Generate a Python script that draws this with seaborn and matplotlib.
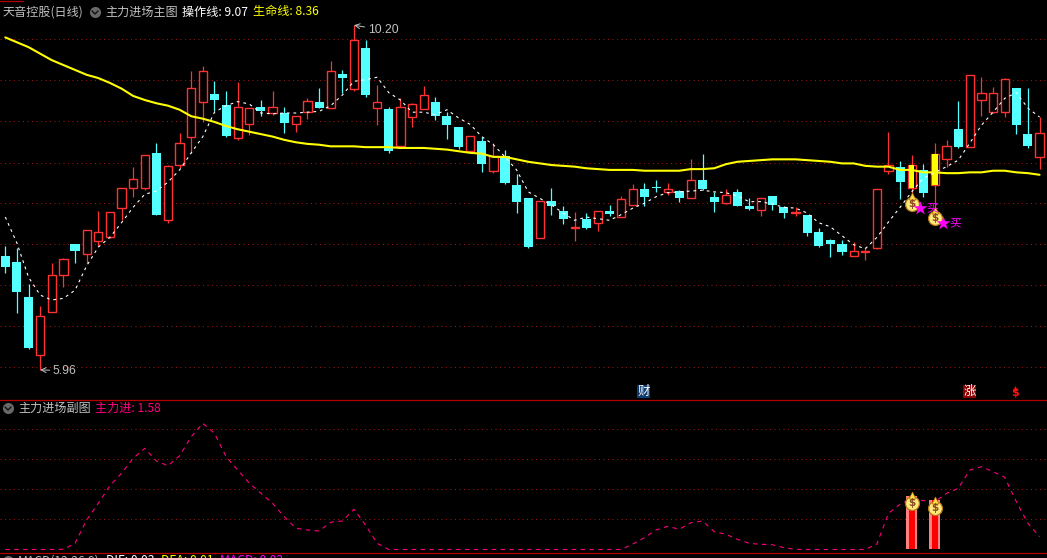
import numpy as np
import pandas as pd
import seaborn as sns
from matplotlib import pyplot as plt
from matplotlib.lines import Line2D
from matplotlib.patches import Rectangle
from matplotlib.transforms import ScaledTranslation

# daily candles
opens = [7.36,7.29,6.86,6.14,6.67,7.13,7.51,7.39,7.55,7.59,7.95,8.20,8.20,8.63,7.80,8.48,8.82,9.26,9.35,9.22,
         8.81,8.98,9.19,9.12,9.12,8.98,9.13,9.26,9.18,9.60,9.42,9.92,9.18,9.17,8.71,9.07,9.17,9.26,9.08,8.95,
         8.65,8.78,8.41,8.59,8.23,8.07,7.58,8.04,7.91,7.71,7.82,7.77,7.91,7.84,7.99,8.19,8.21,8.15,8.16,8.07,
         8.30,8.09,8.01,8.15,7.98,7.93,8.10,7.96,7.89,7.87,7.66,7.56,7.51,7.36,7.41,7.46,8.41,8.46,8.20,8.42,
         8.23,8.55,8.92,8.70,9.28,9.13,9.13,9.43,8.86,8.58]
closes = [7.23,6.92,6.23,6.62,7.13,7.32,7.42,7.68,7.66,7.90,8.20,8.31,8.60,7.87,8.47,8.75,9.43,9.64,9.28,8.84,
          9.19,9.18,9.14,9.19,9.00,9.08,9.27,9.18,9.64,9.55,10.02,9.34,9.26,8.65,9.19,9.23,9.34,9.08,8.97,8.70,
          8.84,8.49,8.59,8.26,8.02,7.47,8.04,7.98,7.82,7.72,7.71,7.91,7.88,8.06,8.19,8.09,8.20,8.19,8.07,8.30,
          8.19,8.03,8.11,7.98,7.94,8.07,7.99,7.89,7.90,7.64,7.48,7.51,7.41,7.42,7.42,8.19,8.48,8.27,8.48,8.14,
          8.62,8.71,8.70,9.59,9.37,9.37,9.54,8.97,8.71,8.87]
highs = [7.48,7.46,7.02,6.75,7.28,7.34,7.51,7.68,7.92,7.90,8.20,8.46,8.60,8.75,8.48,8.87,9.64,9.70,9.51,9.39,
         9.50,9.18,9.28,9.39,9.19,9.08,9.30,9.43,9.76,9.65,10.20,10.02,9.46,9.19,9.30,9.24,9.45,9.32,9.13,8.95,
         8.84,8.83,8.75,8.67,8.37,8.07,8.04,8.20,7.98,7.90,7.89,7.91,7.99,8.10,8.25,8.26,8.30,8.26,8.17,8.55,
         8.62,8.15,8.19,8.19,8.07,8.07,8.10,7.98,7.96,7.87,7.71,7.57,7.56,7.53,7.47,8.19,8.89,8.53,8.60,8.49,
         8.75,8.79,9.27,9.59,9.56,9.44,9.55,9.43,9.43,9.07]
lows = [7.15,6.66,6.22,5.96,6.67,6.98,7.28,7.28,7.48,7.58,7.80,8.09,8.17,7.87,7.77,8.44,8.63,9.01,9.14,8.83,
        8.79,8.85,9.08,9.10,8.87,8.89,9.05,9.18,9.18,9.37,9.39,9.32,8.97,8.63,8.71,8.95,9.17,9.03,8.80,8.68,
        8.65,8.39,8.38,8.25,7.89,7.46,7.58,7.87,7.75,7.55,7.69,7.67,7.85,7.84,7.99,7.98,8.15,8.11,8.03,8.07,
        8.17,7.90,8.00,7.98,7.93,7.85,7.93,7.83,7.85,7.61,7.47,7.35,7.37,7.36,7.31,7.45,8.37,8.06,8.05,8.09,
        7.87,8.46,8.69,8.70,9.08,9.12,9.07,8.86,8.69,8.43]

life_line = [10.05,9.99,9.93,9.85,9.77,9.71,9.65,9.59,9.55,9.49,9.42,9.33,9.28,9.24,9.21,9.16,9.08,9.05,9.01,8.96,
             8.92,8.89,8.86,8.83,8.79,8.76,8.74,8.73,8.71,8.71,8.71,8.70,8.70,8.70,8.69,8.69,8.69,8.68,8.67,8.65,
             8.63,8.62,8.58,8.58,8.55,8.52,8.50,8.48,8.47,8.46,8.44,8.43,8.42,8.42,8.42,8.41,8.41,8.41,8.41,8.43,
             8.43,8.44,8.49,8.52,8.53,8.54,8.55,8.55,8.55,8.54,8.53,8.52,8.50,8.50,8.47,8.46,8.46,8.42,8.42,8.39,
             8.39,8.38,8.38,8.39,8.39,8.41,8.41,8.39,8.38,8.36]
op_line = [7.84,7.52,7.10,6.88,6.82,6.84,6.94,7.24,7.47,7.59,7.77,7.96,8.12,8.16,8.27,8.42,8.63,8.83,9.13,9.21,
           9.26,9.23,9.12,9.11,9.12,9.12,9.13,9.14,9.21,9.34,9.51,9.53,9.56,9.37,9.28,9.13,9.13,9.10,9.16,9.06,
           8.98,8.83,8.73,8.58,8.42,8.15,8.07,7.99,7.89,7.80,7.84,7.82,7.80,7.87,7.95,8.01,8.09,8.14,8.15,8.16,
           8.17,8.15,8.14,8.10,8.03,8.03,8.00,7.96,7.95,7.89,7.77,7.72,7.61,7.50,7.45,7.59,7.78,7.96,8.15,8.32,
           8.39,8.46,8.54,8.75,8.97,9.13,9.30,9.37,9.18,9.07]
main_in = [0,0,0,0,0,0.03,0.76,3.64,5.70,7.87,9.40,11.25,12.49,10.92,10.34,11.57,13.92,15.57,14.34,11.45,
           9.81,8.17,6.93,5.70,4.05,2.62,2.41,2.28,3.36,3.52,4.96,3.02,0.76,0,0,0,0,0,0,0,
           0,0,0,0,0,0,0,0,0,0,0,0,0,0,0.68,1.46,2.41,2.86,2.49,3.31,
           3.52,2.20,1.88,1.26,0.76,0.64,0.59,0.22,0.02,0,0,0,0,0,0,0.68,4.47,5.58,6.32,6.02,
           5.90,6.93,7.55,9.81,10.22,9.60,8.91,5.90,3.23,1.58]

main_grid = [10.03,9.52,9.02,8.51,8.01,7.51,7.00,6.50,5.99]
sub_grid = [14.83,11.13,7.43,3.73]
buy_idx = [78,80]
buy_bag = [8.00,7.83]
buy_star = [7.95,7.77]
sub_bar = [6.60,6.10]
sub_bag = [5.74,5.12]

W, H = 1047, 558
BLACK = '#000000'
RED = '#ff3232'
CYAN = '#54ffff'
LINE = '#b40000'
CJK = ['Noto Sans CJK SC', 'DejaVu Sans']

sns.set_theme(style='dark', rc={'figure.facecolor': BLACK, 'axes.facecolor': BLACK})
plt.rcParams['font.family'] = CJK

df = pd.DataFrame({'i': np.arange(len(opens)), 'open': opens, 'close': closes, 'high': highs, 'low': lows,
                   'life': life_line, 'op': op_line, 'main_in': main_in})
up = df[df['close'] >= df['open']]
down = df[df['close'] < df['open']]

fig = plt.figure(figsize=(W / 100, H / 100), dpi=100)
ax = fig.add_axes([0, 1 - 399 / H, 1, 399 / H])
ax2 = fig.add_axes([0, 1 - 552 / H, 1, 152 / H])

xlim = (-0.456, 89.64)
for a in (ax, ax2):
    a.set_xlim(xlim)
    a.set_xticks([])
    a.tick_params(left=False, labelleft=False, bottom=False)
    for s in a.spines.values():
        s.set_visible(False)
ax.set_ylim(5.602, 10.51)
ax2.set_ylim(-0.31, 18.45)


def grid(a, levels):
    a.set_yticks(levels)
    a.set_yticklabels([])
    a.grid(True, axis='y', color='#a01414', lw=0.72, linestyle=(0, (1, 3.5)))
    a.set_axisbelow(True)


grid(ax, main_grid)
grid(ax2, sub_grid)

# candles
ax.vlines(down['i'], down['low'], down['high'], color=CYAN, lw=0.9, zorder=2)
ax.vlines(up['i'], up['low'], up['high'], color=RED, lw=0.9, zorder=2)
ax.bar(down['i'], down['close'] - down['open'], bottom=down['open'], width=0.78, color=CYAN, lw=0, zorder=3)
ax.bar(up['i'], up['close'] - up['open'], bottom=up['open'], width=0.71, facecolor=BLACK,
       edgecolor=RED, lw=1.0, zorder=3)
# yellow filled buy candles
sel = df[df['i'].isin(buy_idx)]
ax.bar(sel['i'], sel['close'] - sel['open'], bottom=sel['open'], width=0.45, color='#ffff00', lw=0, zorder=4)

sns.lineplot(data=df, x='i', y='life', ax=ax, color='#ffff00', lw=1.5, zorder=5, estimator=None)
sns.lineplot(data=df, x='i', y='op', ax=ax, color='#ffffff', lw=0.8, zorder=6, estimator=None,
             linestyle=(0, (2.5, 3.5)))
ax.set_xlabel('')
ax.set_ylabel('')


def bag(a, x, y):
    a.scatter([x], [y], s=100, marker='o', facecolor='#ffe97a', edgecolor='#b87a18', lw=0.9, zorder=8)
    a.scatter([x], [y], s=24, marker='^', facecolor='#ffe040', edgecolor='#b87a18', lw=0.5, zorder=8,
              transform=a.transData + ScaledTranslation(0, 8 / 100, fig.dpi_scale_trans))
    a.text(x, y, '$', color='#8a4a20', fontsize=7.5, fontweight='bold', ha='center', va='center', zorder=9,
           family='DejaVu Sans')


for k, x in enumerate(buy_idx):
    bag(ax, x, buy_bag[k])
    ax.scatter([x + 0.7], [buy_star[k]], s=110, marker='*', color='#ff00ff', lw=0, zorder=9)
    ax.text(x + 1.75, buy_star[k], '买', color='#ff00ff', fontsize=8.5, ha='center', va='center', zorder=9)

ax.annotate('10.20', xy=(30, 10.20), xytext=(31.2, 10.14), color='#c0c0c0', fontsize=8.8, va='center',
            family='Liberation Sans', arrowprops=dict(arrowstyle='->', color='#c0c0c0', lw=0.7, shrinkA=0, shrinkB=0))
ax.annotate('5.96', xy=(3, 5.96), xytext=(4.1, 5.95), color='#c0c0c0', fontsize=8.8, va='center',
            family='Liberation Sans', arrowprops=dict(arrowstyle='->', color='#c0c0c0', lw=0.7, shrinkA=0, shrinkB=0))

# sub panel
sns.lineplot(data=df, x='i', y='main_in', ax=ax2, color='#ff0080', lw=0.8, estimator=None,
             linestyle=(0, (4, 4)), zorder=3)
ax2.bar(buy_idx, sub_bar, width=0.95, color='#ff8080', lw=0, zorder=4)
ax2.bar(buy_idx, sub_bar, width=0.55, color='#ff0000', lw=0, zorder=5)
for k, x in enumerate(buy_idx):
    bag(ax2, x, sub_bag[k])
ax2.set_xlabel('')
ax2.set_ylabel('')

# panel borders
for y in (399.5, 552.5):
    fig.add_artist(Line2D([0, 1], [1 - y / H] * 2, color=LINE, lw=0.9, transform=fig.transFigure))
fig.add_artist(Line2D([0, 23 / W], [1 - 0.5 / H] * 2, color=LINE, lw=0.9, transform=fig.transFigure))


def label(x, y, s, color, size=8.7, **kw):
    fig.text(x / W, 1 - y / H, s, color=color, fontsize=size, va='center', ha='left', **kw)


def chevron(x, y):
    fig.add_artist(Line2D([x / W], [1 - y / H], marker='o', ms=8, color='#686868', mew=0, transform=fig.transFigure))
    fig.add_artist(Line2D([(x - 3) / W, x / W, (x + 3) / W], [1 - (y - 1) / H, 1 - (y + 2) / H, 1 - (y - 1) / H],
                          color='#111111', lw=1, transform=fig.transFigure))


label(3, 12, '天音控股(日线)', '#c0c0c0')
chevron(95, 12)
label(105, 12, '主力进场主图', '#c0c0c0')
label(182, 12, '操作线: 9.07', '#ffffff')
label(253, 12, '生命线: 8.36', '#ffff00')

chevron(8, 408)
label(18, 408, '主力进场副图', '#c0c0c0')
label(95, 408, '主力进: 1.58', '#ff0080')

# the third panel's header is cut by the bottom edge, as in the screenshot
chevron(8, 561)
label(18, 561, 'MACD(12,26,9)', '#c0c0c0')
label(106, 561, 'DIF: 0.03', '#ffffff')
label(161, 561, 'DEA: 0.01', '#ffff00')
label(220, 561, 'MACD: 0.03', '#ff00ff')


# event tags above the sub panel
def tag(x0, s, bg, fg):
    fig.add_artist(Rectangle((x0 / W, 1 - 398 / H), 13 / W, 13 / H, color=bg, lw=0, transform=fig.transFigure))
    fig.text((x0 + 6.5) / W, 1 - 391.5 / H, s, color=fg, fontsize=9, ha='center', va='center')


tag(637, '财', '#0c3c70', '#ffffff')
tag(963, '涨', '#8c0000', '#ffffff')
fig.text(1015 / W, 1 - 393.5 / H, '$', color='#ff1010', fontsize=8, fontweight='bold', ha='center', va='center',
         family='DejaVu Sans')
fig.add_artist(Line2D([1015 / W], [1 - 387.5 / H], marker='^', ms=3.5, color='#ff1010', mew=0,
                      transform=fig.transFigure))

fig.savefig('out.png', dpi=100, facecolor=BLACK)
